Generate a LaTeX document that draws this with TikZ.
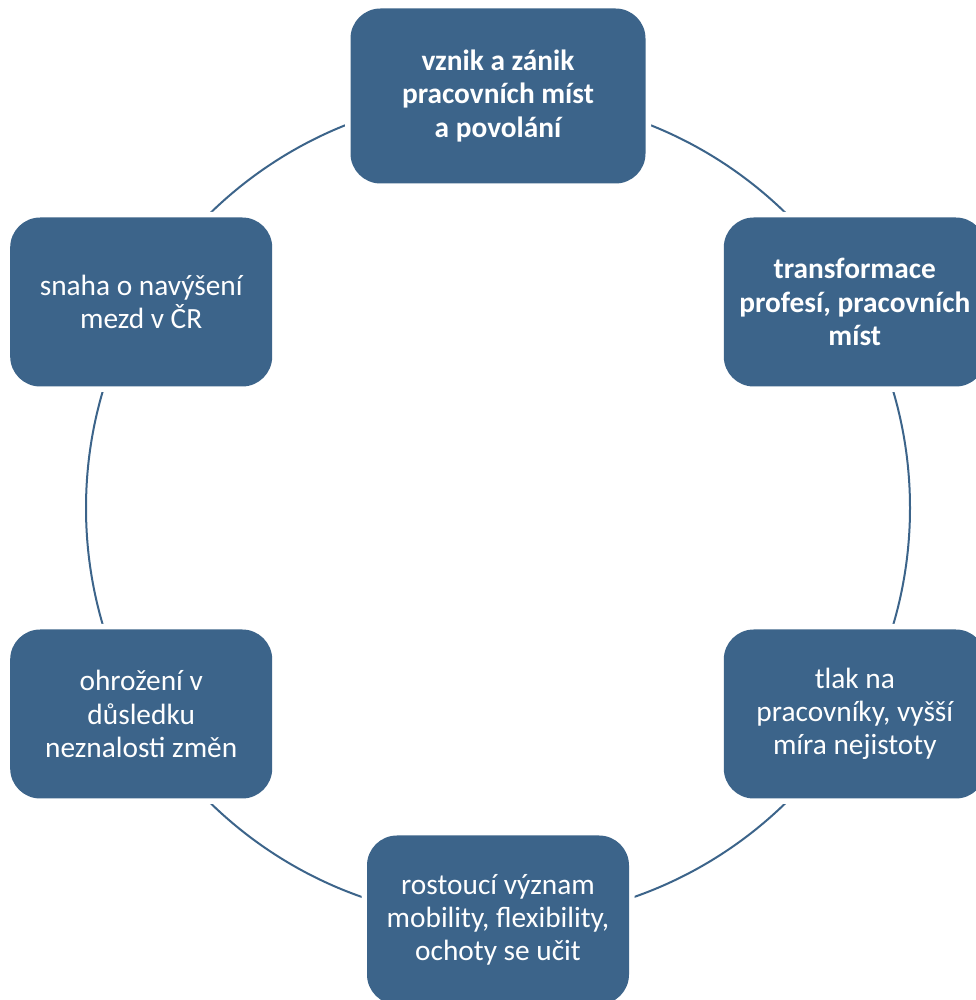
\documentclass[tikz,border=0pt]{standalone}
\usepackage{fontspec}
\setmainfont{Carlito}

\definecolor{boxblue}{RGB}{60,100,138}

\begin{document}
\begin{tikzpicture}[
    box/.style={rectangle, rounded corners=0.6cm, fill=boxblue, text=white,
        minimum width=5.24cm, minimum height=3.38cm, align=center,
        font=\fontsize{16.7}{18.9}\selectfont,
        preaction={draw=white, line width=0.22cm}},
    keybox/.style={box, font=\fontsize{16.7}{18.9}\selectfont\bfseries},
    ring/.style={draw=boxblue, line width=0.04cm}]

    \useasboundingbox (0,0) rectangle (19.52,20);
    \clip (0,0) rectangle (19.52,20);
    \coordinate (c) at (9.96,9.84);

    % the cycle behind the boxes
    \draw[ring] (c) circle (8.24);

    \begin{scope}[shift={(c)}]
    \node[keybox, minimum width=5.9cm, minimum height=3.5cm] (zanik) at (90:8.24)
        {vznik a zánik\\pracovních míst\\a povolání};
    \node[keybox] (transformace) at (30:8.24)
        {transformace\\profesí, pracovních\\míst};
    \node[box] (tlak) at (-30:8.24)
        {tlak na\\pracovníky, vyšší\\míra nejistoty};
    \node[box] (vyznam) at (-90:8.24)
        {rostoucí význam\\mobility, flexibility,\\ochoty se učit};
    \node[box] (ohrozeni) at (210:8.24)
        {ohrožení v\\důsledku\\neznalosti změn};
    \node[box] (mzdy) at (150:8.24)
        {snaha o navýšení\\mezd v ČR};
    \end{scope}
\end{tikzpicture}
\end{document}
